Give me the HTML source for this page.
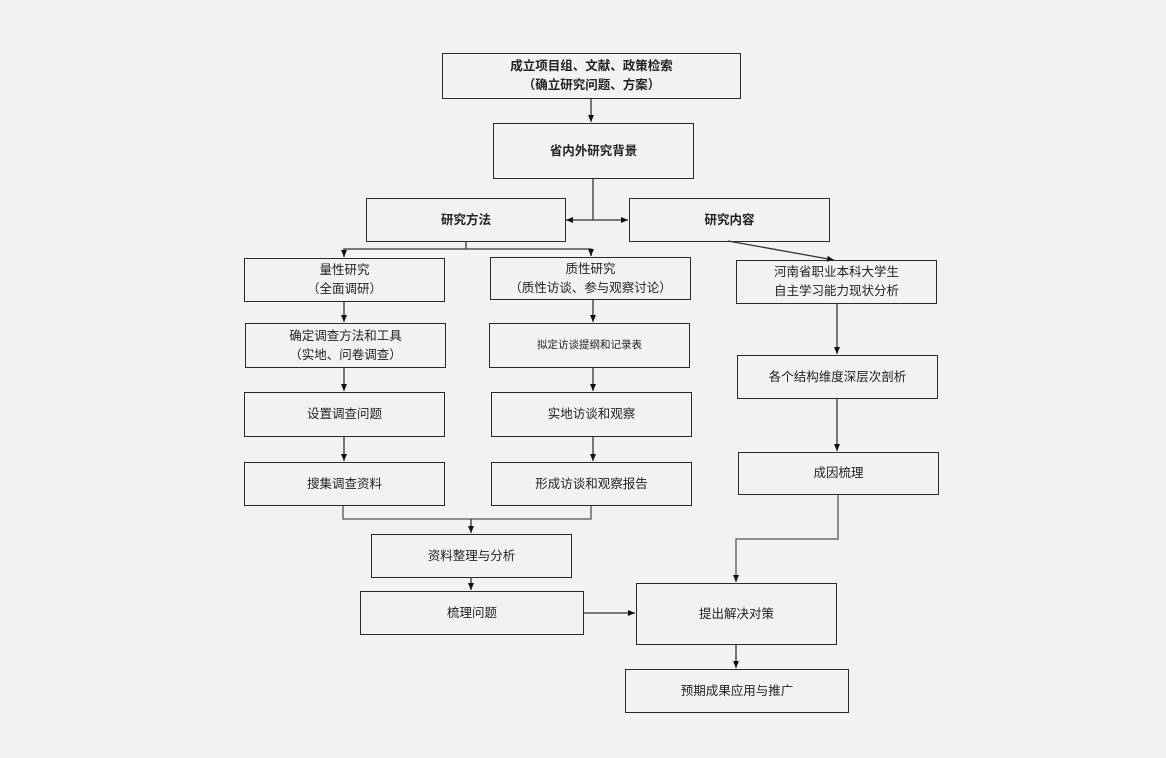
<!DOCTYPE html>
<html><head><meta charset="utf-8"><style>
html,body{margin:0;padding:0;background:#f2f2f4;}
body{width:1166px;height:758px;position:relative;overflow:hidden;font-family:"Liberation Sans","Noto Sans CJK SC",sans-serif;color:#222;}
.b{position:absolute;box-sizing:border-box;border:1.9px solid #2a2a2a;display:flex;align-items:center;justify-content:center;text-align:center;font-size:12.5px;line-height:19px;}
.bd{font-weight:bold;}
svg{position:absolute;left:0;top:0;}
</style></head><body>
<svg width="1166" height="758">
<defs><marker id="a" markerWidth="8" markerHeight="8" refX="7" refY="4" orient="auto" markerUnits="userSpaceOnUse"><path d="M0,1 L7,4 L0,7 z" fill="#111"/></marker></defs>
<g stroke="#333" stroke-width="1.3" fill="none">
<line x1="591" y1="98" x2="591" y2="122" marker-end="url(#a)"/>
<polyline points="593,178 593,220"/>
<line x1="593" y1="220" x2="566" y2="220" marker-end="url(#a)"/>
<line x1="593" y1="220" x2="628" y2="220" marker-end="url(#a)"/>
<polyline points="466,241 466,249"/>
<polyline points="344,257 344,249 591,249 591,256" />
<line x1="344" y1="250" x2="344" y2="257" marker-end="url(#a)"/>
<line x1="591" y1="250" x2="591" y2="256" marker-end="url(#a)"/>
<line x1="728" y1="241" x2="834" y2="260" marker-end="url(#a)"/>
<line x1="344" y1="301" x2="344" y2="322" marker-end="url(#a)"/>
<line x1="593" y1="299" x2="593" y2="322" marker-end="url(#a)"/>
<line x1="344" y1="367" x2="344" y2="391" marker-end="url(#a)"/>
<line x1="593" y1="367" x2="593" y2="391" marker-end="url(#a)"/>
<line x1="344" y1="436" x2="344" y2="461" marker-end="url(#a)"/>
<line x1="593" y1="436" x2="593" y2="461" marker-end="url(#a)"/>
<line x1="837" y1="303" x2="837" y2="354" marker-end="url(#a)"/>
<line x1="837" y1="398" x2="837" y2="451" marker-end="url(#a)"/>
<polyline points="343,505 343,519 591,519 591,505" stroke="#555"/>
<line x1="471" y1="519" x2="471" y2="533" marker-end="url(#a)"/>
<line x1="471" y1="577" x2="471" y2="590" marker-end="url(#a)"/>
<line x1="583" y1="613" x2="635" y2="613" marker-end="url(#a)"/>
<polyline points="838,494 838,539 736,539 736,582" stroke="#555" marker-end="url(#a)"/>
<line x1="736" y1="644" x2="736" y2="668" marker-end="url(#a)"/>
</g></svg>
<div class="b bd" style="left:442px;top:53px;width:299px;height:46px;">成立项目组、文献、政策检索<br>（确立研究问题、方案）</div>
<div class="b bd" style="left:493px;top:123px;width:201px;height:56px;">省内外研究背景</div>
<div class="b bd" style="left:366px;top:198px;width:200px;height:44px;">研究方法</div>
<div class="b bd" style="left:629px;top:198px;width:201px;height:44px;">研究内容</div>
<div class="b" style="left:244px;top:258px;width:201px;height:44px;">量性研究<br>（全面调研）</div>
<div class="b" style="left:490px;top:257px;width:201px;height:43px;">质性研究<br>（质性访谈、参与观察讨论）</div>
<div class="b" style="left:736px;top:260px;width:201px;height:44px;">河南省职业本科大学生<br>自主学习能力现状分析</div>
<div class="b" style="left:245px;top:323px;width:201px;height:45px;">确定调查方法和工具<br>（实地、问卷调查）</div>
<div class="b" style="left:489px;top:323px;width:201px;height:45px;font-size:10.5px;">拟定访谈提纲和记录表</div>
<div class="b" style="left:244px;top:392px;width:201px;height:45px;">设置调查问题</div>
<div class="b" style="left:491px;top:392px;width:201px;height:45px;">实地访谈和观察</div>
<div class="b" style="left:737px;top:355px;width:201px;height:44px;">各个结构维度深层次剖析</div>
<div class="b" style="left:244px;top:462px;width:201px;height:44px;">搜集调查资料</div>
<div class="b" style="left:491px;top:462px;width:201px;height:44px;">形成访谈和观察报告</div>
<div class="b" style="left:738px;top:452px;width:201px;height:43px;">成因梳理</div>
<div class="b" style="left:371px;top:534px;width:201px;height:44px;">资料整理与分析</div>
<div class="b" style="left:360px;top:591px;width:224px;height:44px;">梳理问题</div>
<div class="b" style="left:636px;top:583px;width:201px;height:62px;">提出解决对策</div>
<div class="b" style="left:625px;top:669px;width:224px;height:44px;">预期成果应用与推广</div>
</body></html>
